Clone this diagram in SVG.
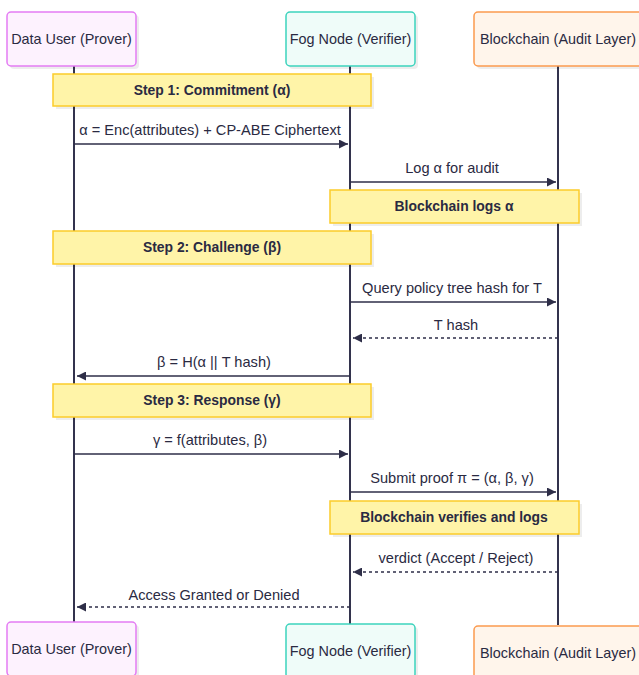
<svg xmlns="http://www.w3.org/2000/svg" width="639" height="675" viewBox="0 0 639 675">
<defs>
<style>
.bg{fill:#ffffff}
.shadow{fill:#000000;fill-opacity:0.07}
.user{fill:#fdf2fe;stroke:#e47cf3;stroke-width:1.5}
.fog{fill:#effcf9;stroke:#3dd3bd;stroke-width:1.5}
.chain{fill:#fff5eb;stroke:#fb9a4f;stroke-width:1.5}
.note{fill:#fff4a8;stroke:#fccc2a;stroke-width:1.5}
.life{stroke:#33334d;stroke-width:2;fill:none}
.msg{stroke:#2e2e48;stroke-width:1.6;fill:none}
.dash{stroke-dasharray:3 3}
.lbl{font-family:"Liberation Sans",Arial,sans-serif;font-size:14.6px;fill:#2a2a42;text-anchor:middle}
.nt{font-family:"Liberation Sans",Arial,sans-serif;font-size:13.9px;font-weight:bold;fill:#2a2a42;text-anchor:middle}
.act{font-family:"Liberation Sans",Arial,sans-serif;font-size:14.4px;fill:#2a2a42;text-anchor:middle}
</style>
<marker id="ah" viewBox="0 0 10 10" refX="10" refY="5" markerWidth="10" markerHeight="9" markerUnits="userSpaceOnUse" orient="auto-start-reverse">
<path d="M0,0 L10,5 L0,10 z" fill="#2e2e48"/>
</marker>
</defs>
<rect class="bg" x="0" y="0" width="639" height="675"/>

<g id="lifelines">
<line class="life" x1="74" y1="66" x2="74" y2="622"/>
<line class="life" x1="350" y1="66" x2="350" y2="624"/>
<line class="life" x1="558" y1="66" x2="558" y2="625"/>
</g>

<g id="actor-user-top">
<rect class="shadow" x="10" y="15" width="129" height="54" rx="4"/>
<rect class="user" x="7" y="12" width="129" height="54" rx="4"/>
<text class="act" x="71.5" y="44">Data User (Prover)</text>
</g>
<g id="actor-fog-top">
<rect class="shadow" x="289" y="15" width="129" height="54" rx="4"/>
<rect class="fog" x="286" y="12" width="129" height="54" rx="4"/>
<text class="act" x="350.5" y="44">Fog Node (Verifier)</text>
</g>
<g id="actor-chain-top">
<rect class="shadow" x="477" y="15" width="168" height="54" rx="4"/>
<rect class="chain" x="474" y="12" width="168" height="54" rx="4"/>
<text class="act" x="558" y="44">Blockchain (Audit Layer)</text>
</g>

<g id="note-step1">
<rect class="shadow" x="56" y="77" width="318" height="32"/>
<rect class="note" x="53" y="74" width="318" height="32"/>
<text class="nt" x="212" y="95">Step 1: Commitment (α)</text>
</g>
<g id="note-chain-logs">
<rect class="shadow" x="333" y="193" width="249" height="33"/>
<rect class="note" x="330" y="190" width="249" height="33"/>
<text class="nt" x="454" y="211">Blockchain logs α</text>
</g>
<g id="note-step2">
<rect class="shadow" x="56" y="234" width="318" height="33"/>
<rect class="note" x="53" y="231" width="318" height="33"/>
<text class="nt" x="212" y="252">Step 2: Challenge (β)</text>
</g>
<g id="note-step3">
<rect class="shadow" x="56" y="387" width="318" height="33"/>
<rect class="note" x="53" y="384" width="318" height="33"/>
<text class="nt" x="212" y="405">Step 3: Response (γ)</text>
</g>
<g id="note-chain-verifies">
<rect class="shadow" x="333" y="504" width="249" height="33"/>
<rect class="note" x="330" y="501" width="249" height="33"/>
<text class="nt" x="454" y="522">Blockchain verifies and logs</text>
</g>

<g id="connectors">
<line class="msg" x1="74" y1="144" x2="348" y2="144" marker-end="url(#ah)"/>
<text class="lbl" x="210" y="135">α = Enc(attributes) + CP-ABE Ciphertext</text>
<line class="msg" x1="350" y1="182" x2="556" y2="182" marker-end="url(#ah)"/>
<text class="lbl" x="452" y="173">Log α for audit</text>
<line class="msg" x1="350" y1="302" x2="556" y2="302" marker-end="url(#ah)"/>
<text class="lbl" x="452" y="293">Query policy tree hash for T</text>
<line class="msg dash" x1="558" y1="338" x2="353" y2="338" marker-end="url(#ah)"/>
<text class="lbl" x="456" y="330">T hash</text>
<line class="msg" x1="350" y1="376" x2="77" y2="376" marker-end="url(#ah)"/>
<text class="lbl" x="214" y="367">β = H(α || T hash)</text>
<line class="msg" x1="74" y1="454" x2="348" y2="454" marker-end="url(#ah)"/>
<text class="lbl" x="210" y="445">γ = f(attributes, β)</text>
<line class="msg" x1="350" y1="492" x2="556" y2="492" marker-end="url(#ah)"/>
<text class="lbl" x="452" y="483">Submit proof π = (α, β, γ)</text>
<line class="msg dash" x1="558" y1="572" x2="353" y2="572" marker-end="url(#ah)"/>
<text class="lbl" x="456" y="563">verdict (Accept / Reject)</text>
<line class="msg dash" x1="350" y1="607" x2="77" y2="607" marker-end="url(#ah)"/>
<text class="lbl" x="214" y="600">Access Granted or Denied</text>
</g>

<g id="actor-user-bottom">
<rect class="shadow" x="10" y="625" width="129" height="54" rx="4"/>
<rect class="user" x="7" y="622" width="129" height="54" rx="4"/>
<text class="act" x="71.5" y="654">Data User (Prover)</text>
</g>
<g id="actor-fog-bottom">
<rect class="shadow" x="289" y="627" width="129" height="54" rx="4"/>
<rect class="fog" x="286" y="624" width="129" height="54" rx="4"/>
<text class="act" x="350.5" y="656">Fog Node (Verifier)</text>
</g>
<g id="actor-chain-bottom">
<rect class="shadow" x="477" y="629" width="168" height="54" rx="4"/>
<rect class="chain" x="474" y="626" width="168" height="54" rx="4"/>
<text class="act" x="558" y="658">Blockchain (Audit Layer)</text>
</g>
</svg>
